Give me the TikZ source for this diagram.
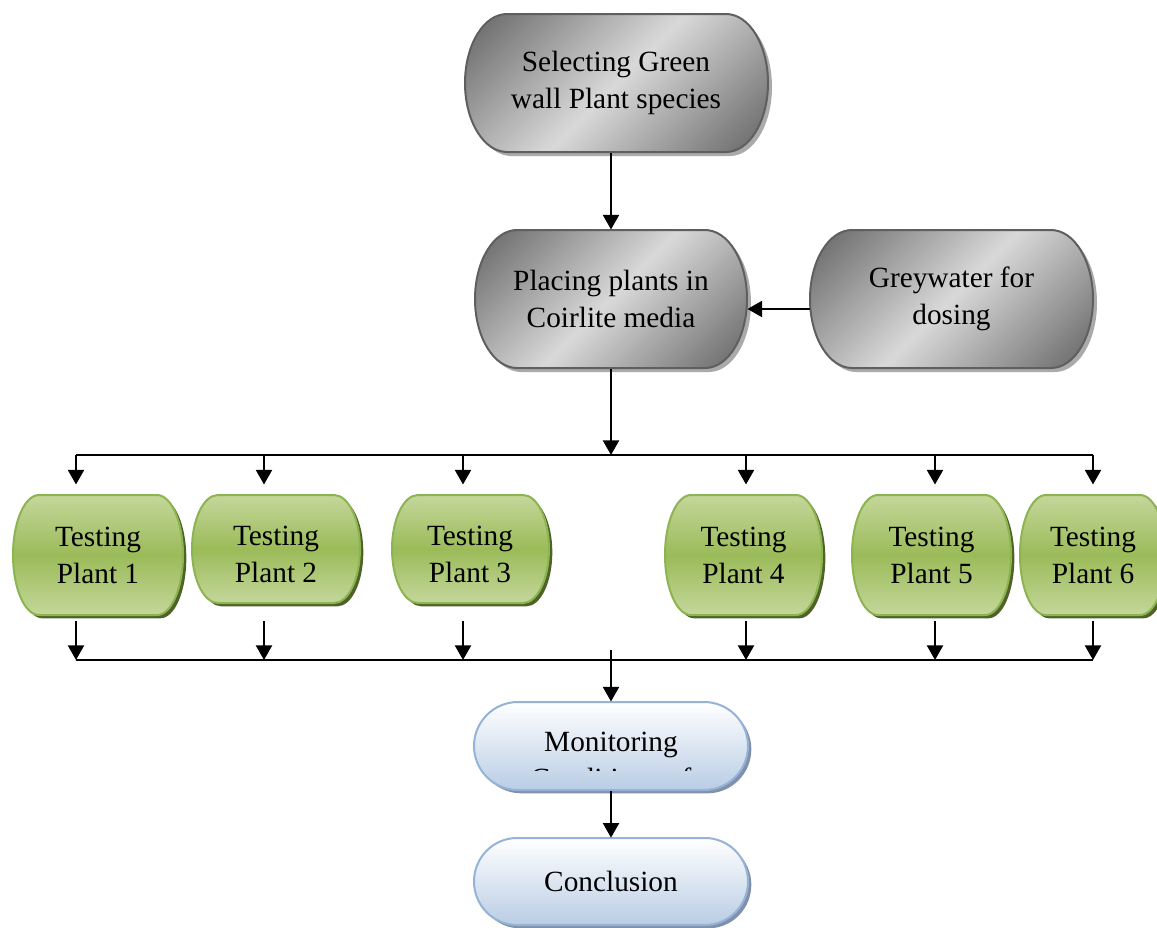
\documentclass[tikz,border=0pt]{standalone}
\usepackage{fontspec}
\setmainfont{Liberation Serif}
\usetikzlibrary{shadows,arrows.meta,positioning,calc}

\pgfdeclarehorizontalshading{greyband}{100bp}{rgb(0bp)=(0.43,0.43,0.43); rgb(20bp)=(0.46,0.46,0.46); rgb(50bp)=(0.85,0.85,0.85); rgb(80bp)=(0.46,0.46,0.46); rgb(100bp)=(0.43,0.43,0.43)}

% box with half-elliptic ends: style, top left x/y, bottom right x/y, end width
\newcommand{\capsule}[6]{%
  \path[#1] (#2+#6,#3) -- (#4-#6,#3)
    arc[start angle=-90, end angle=90, x radius=#6, y radius={(#5-#3)/2}]
    -- (#2+#6,#5)
    arc[start angle=90, end angle=270, x radius=#6, y radius={(#5-#3)/2}]
    -- cycle;
}

\tikzset{every picture/.style={line width=0.75pt}}
\tikzset{
  boxfont/.style={font=\fontsize{22}{27.75}\selectfont, align=center},
  boxtext/.style={boxfont, inner sep=0pt},
  greybox/.style={draw={rgb, 255:red, 95; green, 95; blue, 95 }, line width=1.5pt,
    shading=greyband, shading angle=-45,
    drop shadow={shadow xshift=3pt, shadow yshift=-3pt, fill={rgb, 255:red, 170; green, 170; blue, 170 }, opacity=1}},
  greenbox/.style={draw={rgb, 255:red, 140; green, 180; blue, 80 }, line width=1.5pt,
    top color={rgb, 255:red, 196; green, 215; blue, 155 }, bottom color={rgb, 255:red, 196; green, 215; blue, 155 },
    middle color={rgb, 255:red, 155; green, 187; blue, 89 },
    drop shadow={shadow xshift=2.5pt, shadow yshift=-2.5pt, fill={rgb, 255:red, 79; green, 98; blue, 40 }, opacity=1}},
  bluebox/.style={draw={rgb, 255:red, 149; green, 179; blue, 215 }, line width=1.5pt,
    top color=white, bottom color={rgb, 255:red, 185; green, 205; blue, 229 },
    drop shadow={shadow xshift=2.5pt, shadow yshift=-2.5pt, fill={rgb, 255:red, 130; green, 145; blue, 170 }, opacity=1}},
  arr/.style={-{Triangle[length=11pt,width=12pt]}, line width=1.75pt},
  bus/.style={line width=1.75pt}
}

\begin{document}
\begin{tikzpicture}[x=0.75pt,y=0.75pt,yscale=-1,xscale=1]
\useasboundingbox (0,0) rectangle (1157,928);

% Shapes
\capsule{greybox}{465}{14}{768}{152}{42}
\capsule{greybox}{475}{230}{747}{368}{42}
\capsule{greybox}{810}{230}{1093}{368}{42}
\capsule{greenbox}{13}{495}{183}{615}{26}
\capsule{greenbox}{192}{495}{360}{603}{26}
\capsule{greenbox}{392}{495}{549}{603}{26}
\capsule{greenbox}{665}{495}{822}{615}{26}
\capsule{greenbox}{852}{495}{1011}{615}{26}
\capsule{greenbox}{1020}{495}{1166}{615}{26}
\capsule{bluebox}{474}{702}{748}{790}{44}
\capsule{bluebox}{474}{838}{748}{925}{43}

% Text Node
\node[boxtext, minimum width=227pt, minimum height=103.5pt] (select) at (616,83) {Selecting Green\\wall Plant species};
% Text Node
\node[boxtext, minimum width=204pt, minimum height=103.5pt] (place) at (611,299) {Placing plants in\\Coirlite media};
% Text Node
\node[boxtext, minimum width=212pt, minimum height=103.5pt] (grey) at (951.5,299) {Greywater for\\dosing};
% Text Node
\node[boxtext, minimum width=127.5pt, minimum height=90pt] (p1) at (98,555) {Testing\\Plant 1};
% Text Node
\node[boxtext, minimum width=126pt, minimum height=81pt] (p2) at (276,549) {};
\begin{scope}
\clip (190,495) rectangle (362,583);
\node[boxfont] (t2) at (276,554) {Testing\\Plant 2};
\end{scope}
% Text Node
\node[boxtext, minimum width=117.75pt, minimum height=81pt] (p3) at (470.5,549) {};
\begin{scope}
\clip (390,495) rectangle (551,583);
\node[boxfont] (t3) at (470,554) {Testing\\Plant 3};
\end{scope}
% Text Node
\node[boxtext, minimum width=117.75pt, minimum height=90pt] (p4) at (743.5,555) {Testing\\Plant 4};
% Text Node
\node[boxtext, minimum width=119.25pt, minimum height=90pt] (p5) at (931.5,555) {Testing\\Plant 5};
% Text Node
\node[boxtext, minimum width=109.5pt, minimum height=90pt] (p6) at (1093,555) {Testing\\Plant 6};
% Text Node
\node[boxtext, minimum width=205.5pt, minimum height=66pt] (monitor) at (611,746) {};
\begin{scope}
\clip (472,700) rectangle (750,770);
\node[boxfont] (t7) at (611,760) {Monitoring\\Conditions of};
\end{scope}
% Text Node
\node[boxtext, minimum width=205.5pt, minimum height=65pt] (concl) at (611,881.5) {Conclusion};

% Connection
\draw[arr] (place.north |- select.south) -- (place.north);
% Connection
\draw[arr] ($(grey.west)+(0,10)$) -- ($(place.east)+(0,10)$);

% bus lines above and below the test plants
\foreach \i/\x in {1/76,2/264,3/463,4/746,5/935,6/1093} {
  \coordinate (a\i) at (\x,455);
  \coordinate (b\i) at (\x,660);
}
\draw[bus] (a1) -- (a6);
\draw[bus] (b1) -- (b6);
% Connection
\draw[arr] (place.south) -- (place.south |- a1);
\foreach \i in {1,...,6} {
  \draw[arr, shorten >=7.5pt] (a\i) -- (a\i |- p1.north);
  \draw[arr, shorten <=4pt] (b\i |- p1.south) -- (b\i);
}
% Connection
\draw[arr, shorten <=-7.5pt] (monitor.north |- b1) -- (monitor.north);
% Connection
\draw[arr] (monitor) -- (concl);

\end{tikzpicture}
\end{document}
